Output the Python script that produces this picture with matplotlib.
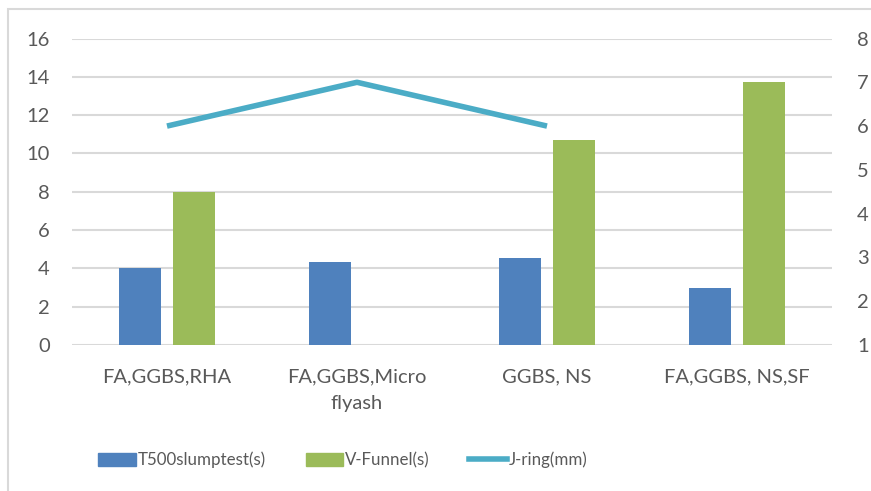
import numpy as np
import matplotlib
matplotlib.use("Agg")
import matplotlib.pyplot as plt
from matplotlib.patches import Rectangle, Patch
from matplotlib.lines import Line2D

plt.rcParams['font.family'] = ['Lato', 'DejaVu Sans']

categories = ["FA,GGBS,RHA", "FA,GGBS,Micro\nflyash", "GGBS, NS", "FA,GGBS, NS,SF"]
t500 = [4.0, 4.33, 4.55, 3.0]
vfunnel = [8.0, np.nan, 10.7, 13.75]
jring = [6.0, 7.0, 6.0, np.nan]

left_ticks = list(range(0, 17, 2))
right_ticks = list(range(1, 9))

c_blue = "#4F81BD"
c_green = "#9BBB59"
c_line = "#4BACC6"
c_text = "#595959"
c_grid = "#D9D9D9"
fs = 14.5
fs_leg = 12.2

W, H = 871, 491
fig = plt.figure(figsize=(W / 100, H / 100), dpi=100)

# chart-area frame
fig.patches.append(Rectangle((8 / W, -0.1), 1.2, 1 - 9 / H + 0.1, transform=fig.transFigure,
                             fill=False, edgecolor="#D9D9D9", linewidth=1.5))

ax = fig.add_axes([72 / W, 1 - 345 / H, (832 - 72) / W, (345 - 38.5) / H])
x = np.arange(len(categories))
bw = 0.226
off = 0.142
ax.bar(x - off, t500, bw, color=c_blue, zorder=3)
ax.bar(x + off, vfunnel, bw, color=c_green, zorder=3)
ax.set_xlim(-0.5, len(categories) - 0.5)
ax.set_ylim(0, 16)
ax.set_yticks(left_ticks)
ax.yaxis.grid(True, color=c_grid, linewidth=1.5)
ax.set_axisbelow(True)
for s in ax.spines.values():
    s.set_visible(False)
ax.tick_params(axis='both', length=0, labelsize=fs, colors=c_text)
ax.tick_params(axis='y', pad=16)
ax.tick_params(axis='x', pad=17)
ax.set_xticks(x)
ax.set_xticklabels(categories, linespacing=1.7)

ax2 = ax.twinx()
ax2.plot(x, jring, color=c_line, linewidth=4, solid_capstyle='butt', zorder=4)
ax2.set_ylim(1, 8)
ax2.set_yticks(right_ticks)
for s in ax2.spines.values():
    s.set_visible(False)
ax2.tick_params(axis='y', length=0, labelsize=fs, colors=c_text, pad=18)

handles = [Patch(color=c_blue), Patch(color=c_green),
           Line2D([0], [0], color=c_line, linewidth=4)]
labels = ["T500slumptest(s)", "V-Funnel(s)", "J-ring(mm)"]
fig.legend(handles, labels, loc='center', bbox_to_anchor=(343 / W, 1 - 460 / H),
           ncol=3, frameon=False, fontsize=fs_leg, labelcolor=c_text,
           handlelength=2.2, handleheight=0.84, handletextpad=0.12, columnspacing=2.35)

fig.savefig("out.png", dpi=100)
